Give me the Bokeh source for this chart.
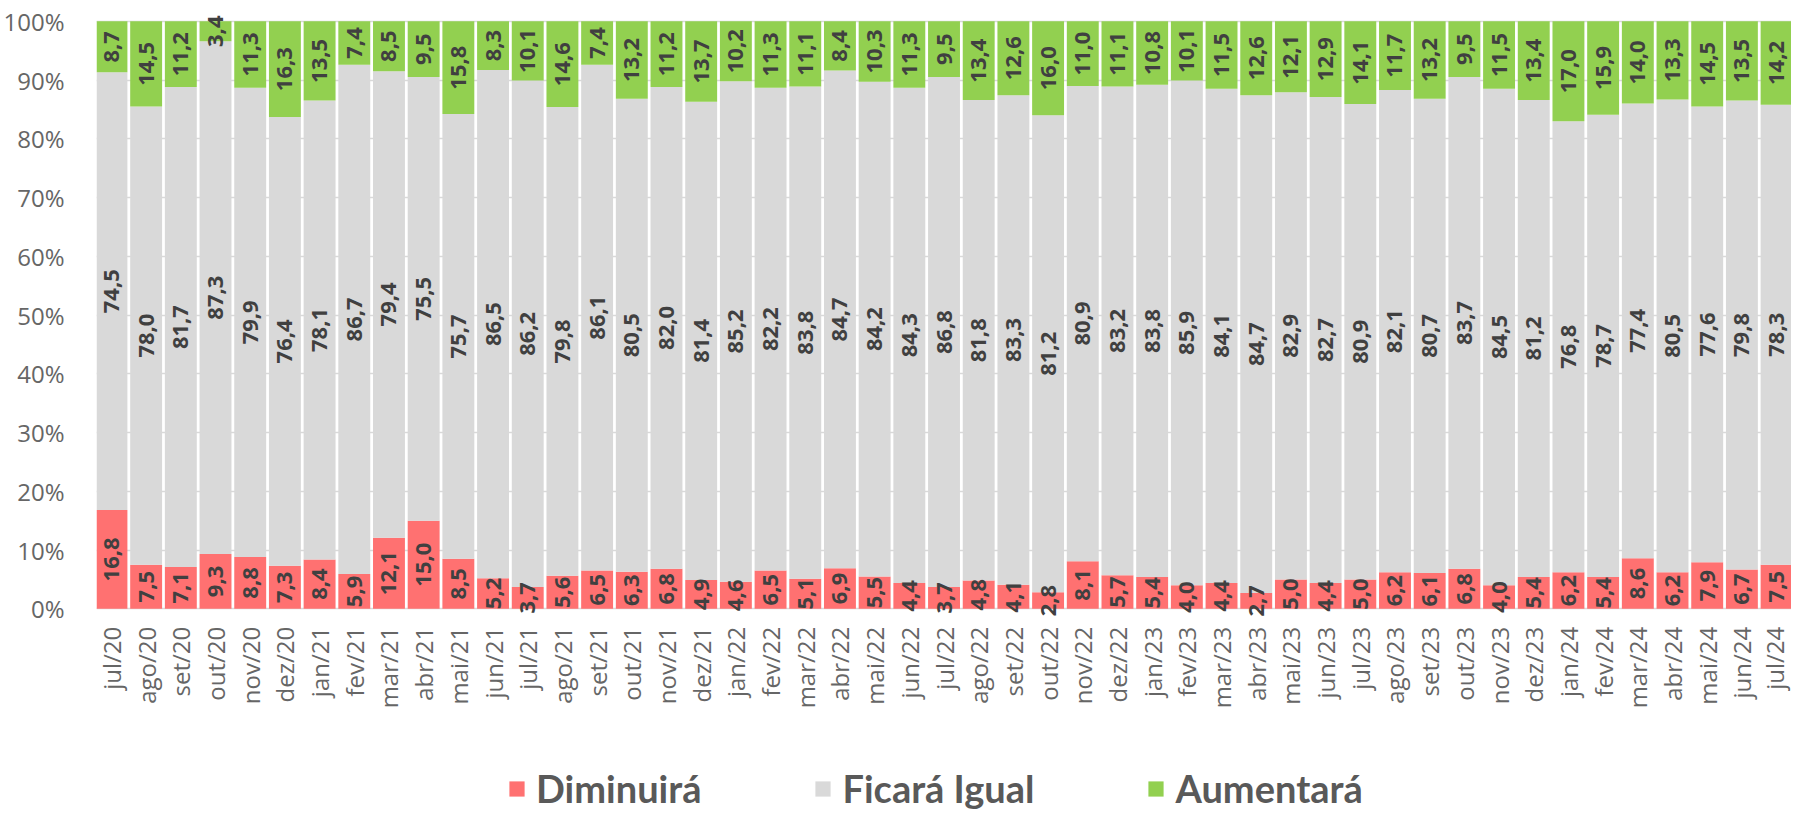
import math
from bokeh.plotting import figure
from bokeh.models import (ColumnDataSource, Range1d, LabelSet, Legend, LegendItem,
                          FixedTicker, PrintfTickFormatter)
from bokeh.core.properties import value
from bokeh.embed import file_html
from bokeh.resources import INLINE

categories = ["jul/20", "ago/20", "set/20", "out/20", "nov/20", "dez/20",
              "jan/21", "fev/21", "mar/21", "abr/21", "mai/21", "jun/21",
              "jul/21", "ago/21", "set/21", "out/21", "nov/21", "dez/21",
              "jan/22", "fev/22", "mar/22", "abr/22", "mai/22", "jun/22",
              "jul/22", "ago/22", "set/22", "out/22", "nov/22", "dez/22",
              "jan/23", "fev/23", "mar/23", "abr/23", "mai/23", "jun/23",
              "jul/23", "ago/23", "set/23", "out/23", "nov/23", "dez/23",
              "jan/24", "fev/24", "mar/24", "abr/24", "mai/24", "jun/24",
              "jul/24"]

diminuira = [16.8, 7.5, 7.1, 9.3, 8.8, 7.3, 8.4, 5.9, 12.1, 15.0, 8.5, 5.2,
             3.7, 5.6, 6.5, 6.3, 6.8, 4.9, 4.6, 6.5, 5.1, 6.9, 5.5, 4.4,
             3.7, 4.8, 4.1, 2.8, 8.1, 5.7, 5.4, 4.0, 4.4, 2.7, 5.0, 4.4,
             5.0, 6.2, 6.1, 6.8, 4.0, 5.4, 6.2, 5.4, 8.6, 6.2, 7.9, 6.7, 7.5]

ficara_igual = [74.5, 78.0, 81.7, 87.3, 79.9, 76.4, 78.1, 86.7, 79.4, 75.5, 75.7, 86.5,
                86.2, 79.8, 86.1, 80.5, 82.0, 81.4, 85.2, 82.2, 83.8, 84.7, 84.2, 84.3,
                86.8, 81.8, 83.3, 81.2, 80.9, 83.2, 83.8, 85.9, 84.1, 84.7, 82.9, 82.7,
                80.9, 82.1, 80.7, 83.7, 84.5, 81.2, 76.8, 78.7, 77.4, 80.5, 77.6, 79.8, 78.3]

aumentara = [8.7, 14.5, 11.2, 3.4, 11.3, 16.3, 13.5, 7.4, 8.5, 9.5, 15.8, 8.3,
             10.1, 14.6, 7.4, 13.2, 11.2, 13.7, 10.2, 11.3, 11.1, 8.4, 10.3, 11.3,
             9.5, 13.4, 12.6, 16.0, 11.0, 11.1, 10.8, 10.1, 11.5, 12.6, 12.1, 12.9,
             14.1, 11.7, 13.2, 9.5, 11.5, 13.4, 17.0, 15.9, 14.0, 13.3, 14.5, 13.5, 14.2]

series_names = ["Diminuirá", "Ficará Igual", "Aumentará"]
colors = ["#FF7171", "#D9D9D9", "#92D050"]
series = [diminuira, ficara_igual, aumentara]
keys = ["d", "f", "a"]
y_ticks = list(range(0, 101, 10))

xpos = list(range(len(categories)))
src = ColumnDataSource(dict(x=xpos, d=diminuira, f=ficara_igual, a=aumentara))

W, H = 1791, 813
p = figure(x_range=Range1d(-0.431, 48.43), y_range=Range1d(-34.85, 102),
           width=W, height=H, output_backend="svg", toolbar_location=None,
           min_border_left=91, min_border_right=0, min_border_top=9, min_border_bottom=0)
p.outline_line_color = None

renderers = p.vbar_stack(keys, x="x", width=0.92, color=colors, line_color=None, source=src)

# data labels
label_color = "#404040"
bottoms = [0.0] * len(categories)
for vals in series:
    mids = [b + v / 2 for b, v in zip(bottoms, vals)]
    txt = [f"{v:.1f}".replace(".", ",") for v in vals]
    ls_src = ColumnDataSource(dict(x=xpos, mid=mids, txt=txt))
    ls = LabelSet(x="x", y="mid", text="txt", source=ls_src, angle=math.pi / 2,
                  text_align="center", text_baseline="middle",
                  text_font=value("Open Sans"), text_font_style="bold",
                  text_font_size="22px", text_color=label_color)
    p.add_layout(ls)
    bottoms = [b + v for b, v in zip(bottoms, vals)]

# axes
axis_font = "Open Sans"
axis_color = "#666666"
p.yaxis.ticker = FixedTicker(ticks=y_ticks)
p.yaxis.formatter = PrintfTickFormatter(format="%d%%")
p.xaxis.ticker = FixedTicker(ticks=xpos)
p.xaxis.major_label_overrides = {i: c for i, c in zip(xpos, categories)}
p.xaxis.fixed_location = 0
for ax in (p.xaxis, p.yaxis):
    ax.axis_line_color = None
    ax.major_tick_line_color = None
    ax.minor_tick_line_color = None
    ax.major_label_text_font = axis_font
    ax.major_label_text_font_size = "24px"
    ax.major_label_text_color = axis_color
p.yaxis.major_label_standoff = 26
p.xaxis.major_label_standoff = 12
p.xaxis.major_label_orientation = math.pi / 2

p.xgrid.visible = False
p.ygrid.grid_line_color = "#D9D9D9"
p.ygrid.grid_line_width = 1.5
p.ygrid.ticker = FixedTicker(ticks=y_ticks)

legend = Legend(items=[LegendItem(label=n, renderers=[r]) for n, r in zip(series_names, renderers)],
                orientation="horizontal", location=(411, 2), spacing=112,
                label_standoff=10, glyph_width=19, glyph_height=19, label_height=38,
                label_text_font="Lato", label_text_font_style="bold",
                label_text_font_size="38px", label_text_color="#595959",
                padding=0, margin=0, border_line_color=None, background_fill_alpha=0)
p.add_layout(legend, "center")

open("out.html", "w").write(file_html(p, INLINE))
